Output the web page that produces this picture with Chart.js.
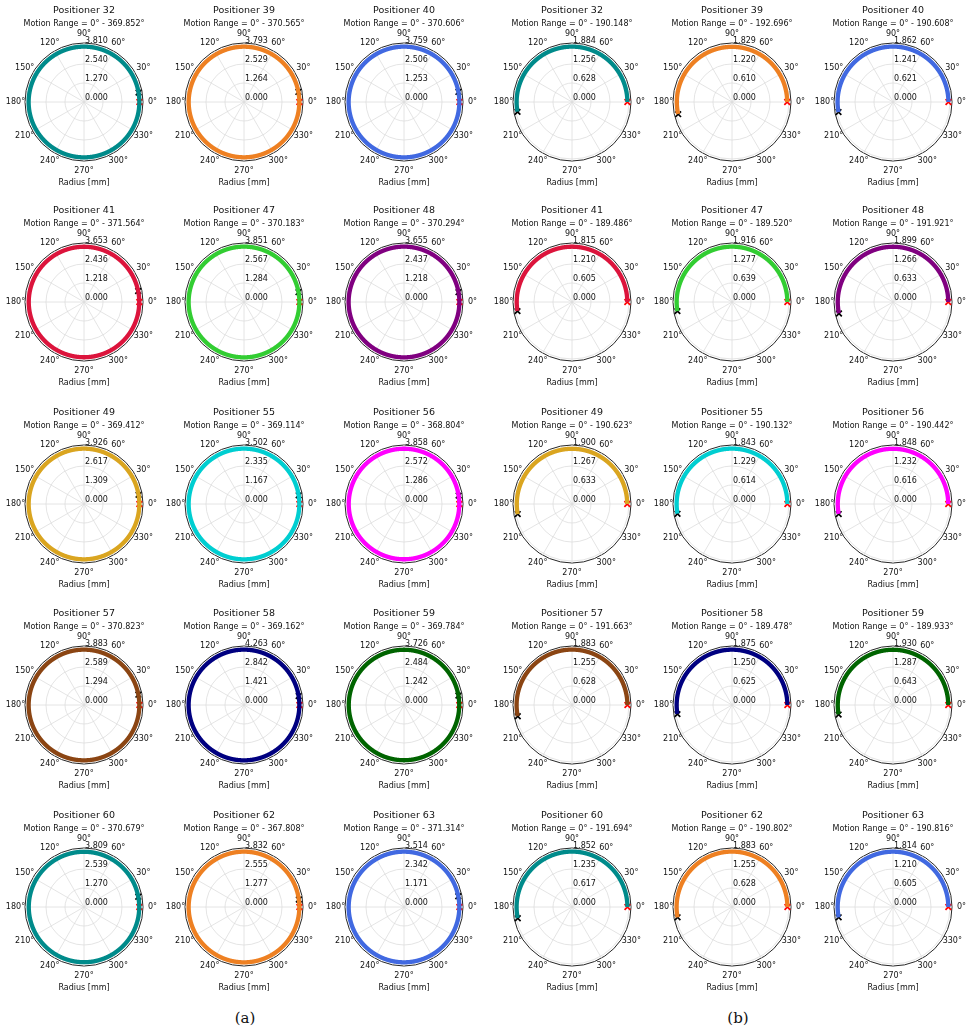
<!DOCTYPE html>
<html lang="en">
<head>
<meta charset="UTF-8" />
<title>Positioner motion range</title>
<script src="https://cdn.jsdelivr.net/npm/chart.js"></script>
<style>
  body { margin: 0; background: #fff; }
  #page { position: relative; width: 972px; height: 1036px; overflow: hidden; }
  #page canvas { position: absolute; }
  .cap { position: absolute; top: 1009px; font-family: "DejaVu Serif", "Liberation Serif", serif; font-size: 15px; color: #111; transform: translateX(-50%); }
</style>
</head>
<body>
<div id="page">
  <div class="cap" style="left:245px">(a)</div>
  <div class="cap" style="left:738px">(b)</div>
</div>
<script>
// positioners, in the order they appear (3 per row, 5 rows) in both panels
const positioners = [32, 39, 40, 41, 47, 48, 49, 55, 56, 57, 58, 59, 60, 62, 63];
const colors = ['#008b8b', '#ee8022', '#4169e1', '#dc143c', '#32cd32', '#800080', '#daa520', '#00ced1',
  '#ff00ff', '#8b4513', '#000080', '#006400', '#008b8b', '#ee8022', '#4169e1'];

// panel (a): end of motion range in degrees, radial tick values, measured ring radius
const endA = [369.852, 370.565, 370.606, 371.564, 370.183, 370.294, 369.412, 369.114, 368.804,
  370.823, 369.162, 369.784, 370.679, 367.808, 371.314];
const ticksA = [[1.270, 2.540, 3.810], [1.264, 2.529, 3.793], [1.253, 2.506, 3.759],
  [1.218, 2.436, 3.653], [1.284, 2.567, 3.851], [1.218, 2.437, 3.655],
  [1.309, 2.617, 3.926], [1.167, 2.335, 3.502], [1.286, 2.572, 3.858],
  [1.294, 2.589, 3.883], [1.421, 2.842, 4.263], [1.242, 2.484, 3.726],
  [1.270, 2.539, 3.809], [1.277, 2.555, 3.832], [1.171, 2.342, 3.514]];
const ringA = [3.70, 3.68, 3.65, 3.54, 3.74, 3.55, 3.81, 3.40, 3.74, 3.77, 4.14, 3.61, 3.69, 3.72, 3.41];

// panel (b)
const endB = [190.148, 192.696, 190.608, 189.486, 189.520, 191.921, 190.623, 190.132, 190.442,
  191.663, 189.478, 189.933, 191.694, 190.802, 190.816];
const ticksB = [[0.628, 1.256, 1.884], [0.610, 1.220, 1.829], [0.621, 1.241, 1.862],
  [0.605, 1.210, 1.815], [0.639, 1.277, 1.916], [0.633, 1.266, 1.899],
  [0.633, 1.267, 1.900], [0.614, 1.229, 1.843], [0.616, 1.232, 1.848],
  [0.628, 1.255, 1.883], [0.625, 1.250, 1.875], [0.643, 1.287, 1.930],
  [0.617, 1.235, 1.852], [0.628, 1.255, 1.883], [0.605, 1.210, 1.814]];
const ringB = [1.83, 1.77, 1.81, 1.76, 1.86, 1.84, 1.84, 1.79, 1.79, 1.83, 1.82, 1.87, 1.80, 1.83, 1.76];

const angleTicks = [0, 30, 60, 90, 120, 150, 180, 210, 240, 270, 300, 330];

// layout of the grid (circle centres)
const colX = [84, 244, 404, 572, 732, 893];
const rowY = [102, 302, 504, 705, 907];

// radar labels: one per 0.25 deg, index 0 at the top, going clockwise
const STEP = 0.25;
const N = 360 / STEP;
const angles = [];
for (let i = 0; i < N; i++) angles.push(((90 - i * STEP) % 360 + 360) % 360);

function angleIndex(th) {
  return ((Math.round((90 - th) / STEP) % N) + N) % N;
}

Chart.defaults.font.family = '"DejaVu Sans", sans-serif';

const polarText = {
  id: 'polarText',
  afterDraw(chart, args, opts) {
    const ctx = chart.ctx;
    const s = chart.scales.r;
    const cx = s.xCenter, cy = s.yCenter;
    ctx.save();
    ctx.fillStyle = '#111';
    ctx.textAlign = 'center';
    ctx.textBaseline = 'middle';
    ctx.font = '9.5px "DejaVu Sans"';
    ctx.fillText(opts.title, cx, cy - 91);
    ctx.font = '8px "DejaVu Sans"';
    ctx.fillText(opts.subtitle, cx, cy - 78.5);
    ctx.fillText('Radius [mm]', cx, cy + 80.5);
    angleTicks.forEach(th => {
      const p = s.getPointPosition(angleIndex(th), s.drawingArea + 9.5);
      ctx.fillText(th + '°', p.x, p.y);
    });
    ctx.textAlign = 'left';
    [0, ...opts.ticks].forEach(v => {
      const d = s.getDistanceFromCenterForValue(v);
      ctx.fillText(v.toFixed(3), cx + 1, cy - d - 4);
    });
    ctx.restore();
  }
};

function makePlot(k, panel) {
  const end = panel === 0 ? endA[k] : endB[k];
  const tk = panel === 0 ? ticksA[k] : ticksB[k];
  const ring = panel === 0 ? ringA[k] : ringB[k];
  const top = tk[2] * 1.035;

  const ringData = angles.map(th => (end >= 360 || th <= end) ? ring : null);
  const startMark = angles.map((th, i) => i === angleIndex(0) ? ring : null);
  const endMark = angles.map((th, i) => i === angleIndex(end) ? ring : null);

  const canvas = document.createElement('canvas');
  canvas.width = 170;
  canvas.height = 200;
  canvas.style.left = (colX[panel * 3 + k % 3] - 85) + 'px';
  canvas.style.top = (rowY[Math.floor(k / 3)] - 100) + 'px';
  document.getElementById('page').appendChild(canvas);

  const mark = {
    showLine: false, pointStyle: 'crossRot', pointRadius: 4, pointBorderWidth: 1.7,
    pointBackgroundColor: 'transparent', fill: false
  };

  new Chart(canvas, {
    type: 'radar',
    data: {
      labels: angles,
      datasets: [
        { data: ringData, borderColor: colors[k], borderWidth: 4.3, pointRadius: 0, fill: false, spanGaps: false },
        Object.assign({ data: endMark, pointBorderColor: '#000' }, mark),
        Object.assign({ data: startMark, pointBorderColor: '#ff0000' }, mark)
      ]
    },
    options: {
      responsive: false,
      animation: false,
      events: [],
      layout: { padding: { left: 26, right: 26, top: 41, bottom: 41 } },
      plugins: {
        legend: { display: false },
        tooltip: { enabled: false },
        polarText: {
          title: 'Positioner ' + positioners[k],
          subtitle: 'Motion Range = 0° - ' + end.toFixed(3) + '°',
          ticks: tk
        }
      },
      scales: {
        r: {
          min: 0,
          max: top,
          startAngle: 0,
          afterBuildTicks: s => { s.ticks = [0, ...tk, top].map(v => ({ value: v })); },
          ticks: { display: false },
          pointLabels: { display: false },
          grid: {
            circular: true,
            color: c => c.index === 4 ? '#262626' : '#dddddd',
            lineWidth: c => c.index === 4 ? 1 : 0.8
          },
          angleLines: {
            color: '#dddddd',
            lineWidth: c => (c.index % (30 / STEP) === 0 ? 0.8 : 0)
          }
        }
      }
    },
    plugins: [polarText]
  });
}

for (let panel = 0; panel < 2; panel++) {
  for (let k = 0; k < positioners.length; k++) makePlot(k, panel);
}
</script>
</body>
</html>
